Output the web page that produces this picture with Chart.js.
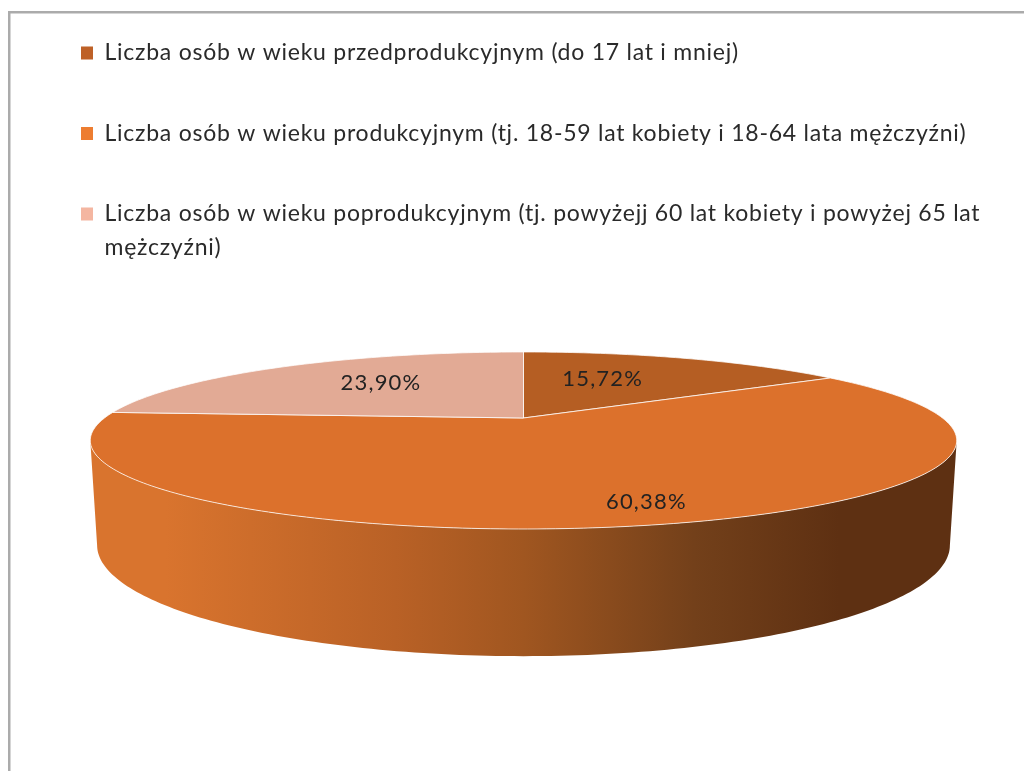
<!DOCTYPE html>
<html>
  <head>
    <title>Struktura wieku</title>
    <script src="https://cdn.jsdelivr.net/npm/chart.js@4"></script>
    <style>
    html, body{ margin: 0; background-color: white; }
    canvas{ display: block; }
    </style>
  </head>
  <body>
    <canvas id="pie" width="1024" height="771"></canvas>

  <script type="text/javascript">

  var categories = [
    "Liczba osób w wieku przedprodukcyjnym (do 17 lat i mniej)",
    "Liczba osób w wieku produkcyjnym (tj. 18-59 lat kobiety i 18-64 lata mężczyźni)",
    "Liczba osób w wieku poprodukcyjnym (tj. powyżejj 60 lat kobiety i powyżej 65 lat"
  ];
  var lastLegendLine = "mężczyźni)";
  var shares = [15.72, 60.38, 23.90];
  var legendColors = ["#BE6127", "#ED7D31", "#F4B6A1"];
  var topColors = ["#B55E23", "#DC712C", "#E2AA95"];

  var legendFont = { family: "Lato", size: 23 };
  var legendSpacing = "0.75px";
  var legendText = "#2A2A2A";

  // Excel-style perspective: k tilts the disc, top and bottom are the two faces
  var k = 0.254;
  var cx = 523.5;
  var topFace = { a: 419, b: 82.8, y0: 418 };
  var bottomFace = { a: 412.4, b: 103.8, y0: 517 };

  function project(angle, r, face){
    var u = Math.cos(angle) * r, v = Math.sin(angle) * r;
    var w = 1 - k * v;
    return { x: cx + u * face.a / w, y: face.y0 + v * face.b / w };
  }

  function rimPoints(start, end, face){
    var pts = [], n = Math.ceil((end - start) * 60);
    for (var i = 0; i <= n; i++){
      pts.push(project(start + (end - start) * i / n, 1, face));
    }
    return pts;
  }

  function trace(ctx, pts){
    pts.forEach(function(p){ ctx.lineTo(p.x, p.y); });
  }

  function drawSide(ctx, arc){
    // only the front part of the rim is visible, it starts where sin(angle) = k
    var from = Math.asin(k), to = Math.PI - from;
    var start = Math.max(arc.startAngle, from), end = Math.min(arc.endAngle, to);
    if (end <= start) return;

    var grad = ctx.createLinearGradient(97, 0, 950, 0);
    grad.addColorStop(0, "#D9742E");
    grad.addColorStop(0.08, "#D9742E");
    grad.addColorStop(0.35, "#B96126");
    grad.addColorStop(0.5, "#A05620");
    grad.addColorStop(0.7, "#73401A");
    grad.addColorStop(0.87, "#5E3012");
    grad.addColorStop(1, "#5E3012");

    ctx.beginPath();
    trace(ctx, rimPoints(start, end, topFace));
    trace(ctx, rimPoints(start, end, bottomFace).reverse());
    ctx.closePath();
    ctx.fillStyle = grad;
    ctx.fill();
  }

  function drawTop(ctx, arc, color){
    ctx.beginPath();
    ctx.moveTo(cx, topFace.y0);
    trace(ctx, rimPoints(arc.startAngle, arc.endAngle, topFace));
    ctx.closePath();
    ctx.fillStyle = color;
    ctx.fill();
    ctx.strokeStyle = "rgba(255,255,255,0.75)";
    ctx.lineWidth = 1;
    ctx.stroke();
  }

  // radial place of each value label, with the small shift Excel gave it
  var labelSpots = [
    { r: 0.607, dx: -27 },
    { r: 0.835, dx: 11 },
    { r: 0.64, dx: 21 }
  ];

  var pie3d = {
    id: "pie3d",
    beforeDraw: function(chart){
      var ctx = chart.ctx;
      ctx.letterSpacing = legendSpacing;
      // grey frame, open to the right and bottom
      ctx.fillStyle = "#ABABAB";
      ctx.fillRect(8, 11, 1016, 2.5);
      ctx.fillRect(8, 11, 2.5, 760);
    },
    beforeDatasetsDraw: function(chart){
      var ctx = chart.ctx;
      var arcs = chart.getDatasetMeta(0).data;
      ctx.save();
      arcs.forEach(function(arc){ drawSide(ctx, arc); });
      arcs.forEach(function(arc, i){ drawTop(ctx, arc, topColors[i]); });

      ctx.font = "22px Lato";
      ctx.letterSpacing = "1.2px";
      ctx.fillStyle = "#222222";
      ctx.textAlign = "center";
      ctx.textBaseline = "middle";
      arcs.forEach(function(arc, i){
        var mid = (arc.startAngle + arc.endAngle) / 2;
        var p = project(mid, labelSpots[i].r, topFace);
        ctx.fillText(shares[i].toFixed(2).replace(".", ",") + "%", p.x + labelSpots[i].dx, p.y);
      });

      // the legend does not wrap by itself, so its last entry gets a second line here
      var box = chart.legend.legendHitBoxes[2];
      ctx.font = legendFont.size + "px " + legendFont.family;
      ctx.letterSpacing = legendSpacing;
      ctx.fillStyle = legendText;
      ctx.textAlign = "left";
      ctx.fillText(lastLegendLine, box.left + 12 + legendFont.size / 2, box.top + box.height / 2 + 33.5);
      ctx.restore();
      return false;
    }
  };

  new Chart(document.getElementById("pie").getContext("2d"), {
    type: "pie",
    data: {
      labels: categories,
      datasets: [{ data: shares, backgroundColor: legendColors, borderWidth: 0 }]
    },
    options: {
      responsive: false,
      animation: false,
      events: [],
      layout: { padding: { left: 23.5, top: -16 } },
      plugins: {
        tooltip: { enabled: false },
        legend: {
          position: "top",
          align: "start",
          labels: {
            boxWidth: 12,
            boxHeight: 13,
            padding: 57.5,
            color: legendText,
            font: legendFont
          }
        }
      }
    },
    plugins: [pie3d]
  });

  </script>
  </body>
</html>
